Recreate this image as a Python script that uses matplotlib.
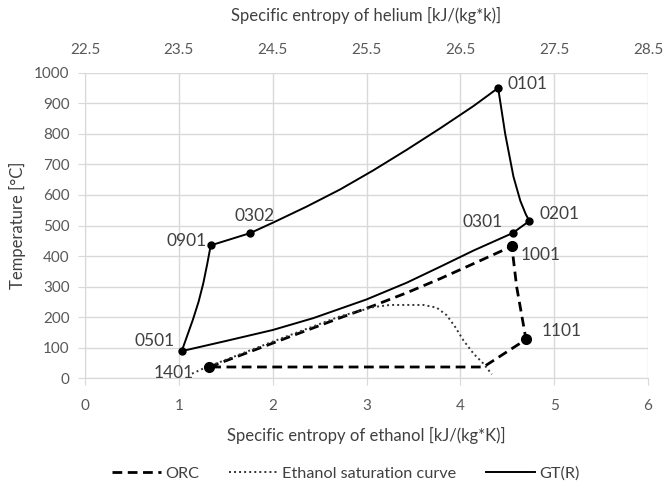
import matplotlib
matplotlib.use('Agg')
import matplotlib.pyplot as plt

plt.rcParams['font.family'] = ['Lato', 'DejaVu Sans']

# ORC cycle (ethanol entropy, bottom axis)
orc_s = [1.325, 2.0, 2.72, 3.07, 3.43, 3.785, 4.14, 4.549, 4.60, 4.70, 4.246, 1.325]
orc_t = [37, 115, 198, 237, 280, 326, 375, 432, 300, 127, 37, 37]

# ethanol saturation curve
sat_s = [1.14, 1.26, 2.0, 2.72, 3.074, 3.252, 3.607, 3.749, 3.856, 3.945, 4.033, 4.14, 4.246, 4.336]
sat_t = [15, 32, 120, 203, 233, 240, 240, 231, 206, 168, 124, 81, 48, 13]

# GT(R) cycle (helium entropy, top axis)
gt_s = [26.903, 26.978, 27.066, 27.14, 27.20, 27.237, 27.056,
        26.64, 26.285, 25.93, 25.5, 24.934, 24.5, 24.0, 23.531,
        23.59, 23.65, 23.71, 23.76, 23.80, 23.84,
        24.259, 24.508, 24.863, 25.219, 25.57, 25.93, 26.285, 26.636, 26.903]
gt_t = [950, 800, 660, 580, 535, 515, 475,
        418, 365, 313, 258, 197, 158, 122, 89,
        140, 192, 250, 310, 370, 435,
        475, 510, 562, 618, 680, 748, 818, 890, 950]

# labelled state points
gt_pts = ['0101', '0201', '0301', '0501', '0901', '0302']
gt_pts_s = [26.903, 27.237, 27.056, 23.531, 23.84, 24.259]
gt_pts_t = [950, 515, 475, 89, 435, 475]
orc_pts = ['1001', '1101', '1401']
orc_pts_s = [4.549, 4.70, 1.325]
orc_pts_t = [432, 127, 37]

label_offsets = {
    '0101': (7, 3, 'left'), '0201': (7, 5, 'left'), '0301': (-7, 8, 'right'),
    '0501': (-5, 7, 'right'), '0901': (-3, 3, 'right'), '0302': (3, 12, 'center'),
    '1001': (6, -6, 'left'), '1101': (11, 6, 'left'), '1401': (-11, -4, 'right'),
}

grid_c = '#d9d9d9'
txt_c = '#404040'
tick_c = '#595959'

fig = plt.figure(figsize=(6.65, 4.88), dpi=100)
ax = fig.add_axes([85 / 665, 1 - 378.3 / 488, 563 / 665, 305.6 / 488])
ax2 = ax.twiny()

ax.set_xlim(0, 6)
ax.set_ylim(0, 1000)
ax.set_xticks(range(0, 7))
ax.set_yticks(range(0, 1001, 100))
ax.grid(True, color=grid_c, lw=1)
ax.set_axisbelow(True)
for sp in ['top', 'right']:
    ax.spines[sp].set_visible(False)
for sp in ['left', 'bottom']:
    ax.spines[sp].set_color(grid_c)
ax.tick_params(colors=grid_c, labelcolor=tick_c, labelsize=11, length=5, pad=6)
ax.tick_params(axis='x', pad=10)

ax2.set_xlim(22.5, 28.5)
ax2.set_xticks([22.5 + i for i in range(7)])
ax2.tick_params(length=0, labelcolor=tick_c, labelsize=11, pad=11)
for sp in ax2.spines.values():
    sp.set_visible(False)

l1, = ax.plot(orc_s, orc_t, color='black', lw=2, ls=(0, (3.5, 2)), label='ORC')
l2, = ax.plot(sat_s, sat_t, color='#333333', lw=1.4, ls=(0, (1, 1.6)),
              label='Ethanol saturation curve')
l3, = ax2.plot(gt_s, gt_t, color='black', lw=1.4, label='GT(R)')

ax2.plot(gt_pts_s, gt_pts_t, 'o', color='black', ms=5)
ax.plot(orc_pts_s, orc_pts_t, 'o', color='black', ms=7)

for name, s, t in zip(gt_pts, gt_pts_s, gt_pts_t):
    dx, dy, ha = label_offsets[name]
    ax2.annotate(name, (s, t), xytext=(dx, dy), textcoords='offset points',
                 ha=ha, va='center', fontsize=12.5, color=txt_c)
for name, s, t in zip(orc_pts, orc_pts_s, orc_pts_t):
    dx, dy, ha = label_offsets[name]
    ax.annotate(name, (s, t), xytext=(dx, dy), textcoords='offset points',
                ha=ha, va='center', fontsize=12.5, color=txt_c)

ax.set_xlabel('Specific entropy of ethanol [kJ/(kg*K)]', fontsize=12, color=txt_c, labelpad=10)
ax.set_ylabel('Temperature [°C]', fontsize=12, color=txt_c, labelpad=6)
ax2.set_xlabel('Specific entropy of helium [kJ/(kg*k)]', fontsize=12, color=txt_c, labelpad=16)

fig.legend(handles=[l1, l2, l3], loc='center', bbox_to_anchor=(0.52, 0.03), ncol=3,
           frameon=False, fontsize=11.7, handlelength=3.0, columnspacing=1.8,
           labelcolor=txt_c, handletextpad=0.3)

fig.savefig('out.png', dpi=100)
